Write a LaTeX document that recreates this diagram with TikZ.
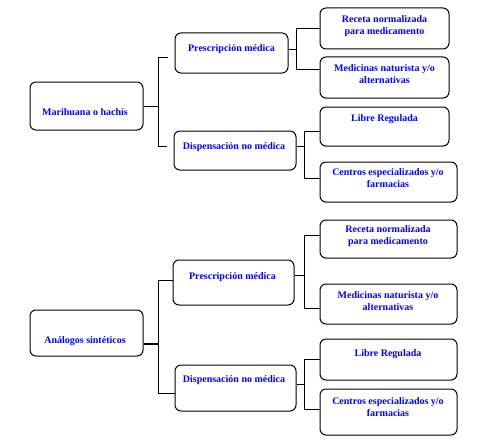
\documentclass[tikz,border=0pt]{standalone}
\usepackage{fontspec}
\setmainfont{Liberation Serif}
\begin{document}
\begin{tikzpicture}[x=1pt,y=-1pt,
  box/.style={draw=black,line width=1pt,rounded corners=6pt,inner sep=0pt},
  txt/.style={font=\bfseries\fontsize{10}{12}\selectfont,text=blue,align=center,inner sep=0pt},
  conn/.style={draw=black,line width=0.9pt}]
\useasboundingbox (0,0) rectangle (500,444);
% top half boxes
\node[box,minimum width=113pt,minimum height=48pt] (M1) at (86.5,106) {};
\node[box,minimum width=113pt,minimum height=40pt] (P1) at (231.5,53) {};
\node[box,minimum width=122pt,minimum height=39pt] (D1) at (235,150.5) {};
\node[box,minimum width=129pt,minimum height=41pt] (R1) at (384.5,28.5) {};
\node[box,minimum width=129pt,minimum height=41pt] (N1) at (384.5,77.5) {};
\node[box,minimum width=129pt,minimum height=39pt] (L1) at (384.5,126.5) {};
\node[box,minimum width=137pt,minimum height=40pt] (C1) at (388.5,182) {};
% bottom half boxes
\node[box,minimum width=113pt,minimum height=46pt] (A2) at (86.5,333) {};
\node[box,minimum width=121pt,minimum height=45pt] (P2) at (233.5,282.5) {};
\node[box,minimum width=121pt,minimum height=46pt] (D2) at (235.5,388) {};
\node[box,minimum width=137pt,minimum height=38pt] (R2) at (388.5,239) {};
\node[box,minimum width=137pt,minimum height=40pt] (N2) at (388.5,304) {};
\node[box,minimum width=137pt,minimum height=41pt] (L2) at (388.5,359.5) {};
\node[box,minimum width=137pt,minimum height=46pt] (C2) at (388.5,412) {};
% texts
\node[txt,anchor=mid] (tM1) at (85,113) {Marihuana o hachís};
\node[txt,anchor=mid] (tP1) at (231.5,49) {Prescripción médica};
\node[txt,anchor=mid] (tD1) at (234,147) {Dispensación no médica};
\node[txt] (tR1) at (384.5,26) {Receta normalizada\\para medicamento};
\node[txt] (tN1) at (384.5,74) {Medicinas naturista y/o\\alternativas};
\node[txt,anchor=mid] (tL1) at (384.5,119) {Libre Regulada};
\node[txt] (tC1) at (388,178.5) {Centros especializados y/o\\farmacias};
\node[txt,anchor=mid] (tA2) at (85,341) {Análogos sintéticos};
\node[txt,anchor=mid] (tP2) at (232.5,277) {Prescripción médica};
\node[txt,anchor=mid] (tD2) at (234,380) {Dispensación no médica};
\node[txt] (tR2) at (388,236) {Receta normalizada\\para medicamento};
\node[txt] (tN2) at (388,301) {Medicinas naturista y/o\\alternativas};
\node[txt,anchor=mid] (tL2) at (388,354) {Libre Regulada};
\node[txt] (tC2) at (388,407) {Centros especializados y/o\\farmacias};
% connectors top
\draw[conn] (M1.east) -- ++(15,0) coordinate (j1);
\draw[conn,shorten >=7pt] (j1) |- ([yshift=-4pt]P1.west);
\draw[conn,shorten >=7pt] (j1) |- ([yshift=4.5pt]D1.west);
\draw[conn] ([yshift=4pt]P1.east) -- ++(8,0) coordinate (j2);
\draw[conn] (j2) |- (R1.west);
\draw[conn] (j2) |- ([yshift=8.5pt]N1.west);
\draw[conn] ([yshift=4.5pt]D1.east) -- ++(8,0) coordinate (j3);
\draw[conn] (j3) |- ([yshift=-4.5pt]L1.west);
\draw[conn] (j3) |- ([yshift=4pt]C1.west);
% connectors bottom
\draw[conn,line width=1.3pt] ([yshift=-11pt]A2.east) -- ++(15,0) coordinate (j4);
\draw[conn] (j4) |- ([yshift=2.5pt]P2.west);
\draw[conn] (j4) |- ([yshift=-5pt]D2.west);
\draw[conn] ([yshift=7.5pt]P2.east) -- ++(10,0) coordinate (j5);
\draw[conn] (j5) |- ([yshift=4pt]R2.west);
\draw[conn] (j5) |- ([yshift=-4pt]N2.west);
\draw[conn] ([yshift=4pt]D2.east) -- ++(8,0) coordinate (j6);
\draw[conn] (j6) |- (L2.west);
\draw[conn] (j6) |- ([yshift=3pt]C2.west);
\end{tikzpicture}
\end{document}
